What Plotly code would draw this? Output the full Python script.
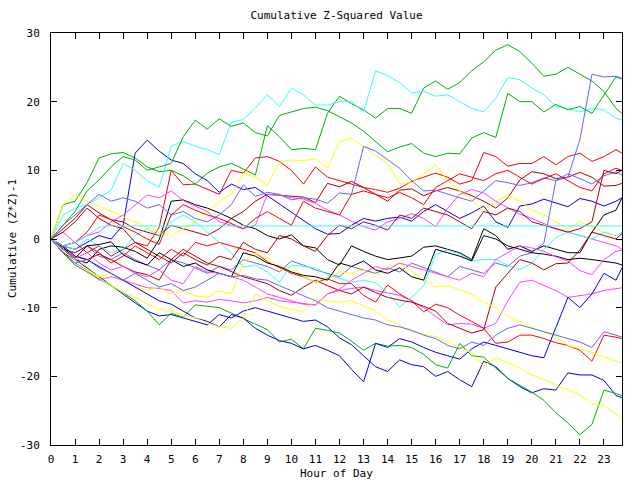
import plotly.graph_objects as go

# sampling grid: every half hour, plus the last quarter hour
HOURS = [i * 0.5 for i in range(48)] + [23.75]

G1 = [0, 5.0, 5.5, 8.2, 11.8, 12.4, 12.6, 11.8,
      10.5, 9.8, 10.0, 9.2, 8.0, 9.6, 10.5, 11.0,
      10.2, 9.3, 16.5, 14.9, 13.0, 13.2, 13.0, 18.3,
      20.8, 19.7, 18.8, 17.6, 19.0, 19.0, 18.3, 22.0,
      23.0, 21.8, 22.8, 24.5, 25.8, 27.5, 28.3, 27.3,
      25.6, 23.7, 24.0, 25.0, 24.0, 23.0, 21.5, 19.0,
      18.3]
G2 = [0, 2.0, 4.0, 7.0, 8.6, 10.5, 12.0, 11.5,
      10.0, 10.5, 11.0, 14.9, 17.3, 16.0, 17.5, 16.4,
      16.9, 15.5, 15.0, 18.0, 18.5, 19.0, 19.2, 18.7,
      17.8, 16.9, 15.7, 14.2, 12.7, 13.4, 13.9, 12.5,
      12.0, 12.5, 12.4, 14.7, 15.5, 14.8, 21.2, 20.0,
      20.0, 18.5, 19.6, 18.8, 19.3, 18.3, 21.0, 23.6,
      23.3]
GB = [0, -2.0, -3.8, -4.8, -5.8, -6.8, -7.8, -9.0,
      -10.5, -12.5, -10.8, -11.4, -9.6, -9.8, -10.0, -10.8,
      -11.6, -12.3, -13.2, -15.0, -14.6, -16.0, -13.0, -13.3,
      -13.7, -14.9, -16.2, -15.2, -15.6, -15.5, -15.8, -16.8,
      -18.3, -18.8, -15.2, -17.0, -17.2, -18.8, -20.3, -21.3,
      -22.3, -23.5, -25.3, -26.8, -28.5, -27.0, -22.0, -22.5,
      -22.8]
C1 = [0, 3.5, 4.5, 5.0, 6.0, 7.1, 11.0, 10.0,
      8.5, 7.5, 13.5, 14.2, 13.5, 13.0, 12.3, 17.0,
      17.4, 19.1, 21.0, 19.3, 22.0, 21.0, 19.5, 19.5,
      20.0, 20.0, 18.5, 24.5, 23.8, 22.8, 21.3, 21.5,
      20.8, 21.0, 20.0, 19.0, 18.5, 20.5, 23.5, 23.2,
      22.0, 21.0, 19.3, 19.0, 18.5, 19.0, 18.8, 17.6,
      17.3]
C2 = [0, -1.0, -0.5, 0.5, 1.7, 1.9, 1.9, 1.9,
      1.9, 1.9, 1.9, 1.9, 1.9, 1.9, 1.9, 1.9,
      1.9, 1.9, 1.9, 1.9, 1.9, 1.9, 1.9, 1.9,
      1.9, 1.9, 1.9, 1.9, 1.9, 1.9, 1.9, 1.9,
      1.9, 1.9, 1.9, 1.9, 1.9, 1.9, 1.9, 1.9,
      1.9, 1.9, 1.9, 1.9, 1.9, 1.9, 1.9, 1.9,
      1.9]
C3 = [0, -1.0, -1.5, 0.0, -1.0, -2.0, -1.5, 0.5,
      1.5, 0.5, 2.5, 3.5, 2.5, 1.0, -0.5, -2.0,
      -4.1, -3.8, -4.8, -6.3, -3.8, -4.0, -4.2, -5.2,
      -5.8, -6.3, -6.0, -6.4, -7.8, -9.9, -8.5, -6.8,
      -2.3, -1.6, -2.2, -3.2, -3.0, -3.0, -3.8, -4.5,
      -3.5, -1.5, 0.2, 1.0, 0.5, 0.0, 1.0, 0.5,
      1.0]
B1 = [0, -1.0, -1.5, -0.5, 0.5, 0.0, 2.0, 12.5,
      14.4, 12.8, 11.5, 11.0, 9.5, 8.5, 6.8, 8.0,
      7.2, 7.5, 6.3, 5.0, 3.8, 2.6, 1.5, 0.7,
      0.8, 2.0, 3.0, 2.6, 3.0, 3.2, 2.6, 4.0,
      5.0, 4.0, 3.0, 3.8, 4.8, 2.5, 1.7, 4.8,
      5.1, 5.8, 5.2, 4.7, 5.9, 5.5, 4.8, 5.5,
      6.0]
B2 = [0, -1.5, -3.0, -4.2, -5.5, -6.8, -8.0, -9.3,
      -10.5, -11.2, -11.0, -11.5, -12.0, -12.5, -11.0, -11.5,
      -10.5, -10.0, -10.5, -11.0, -11.5, -12.0, -11.8, -12.8,
      -14.4, -15.4, -17.0, -18.6, -19.3, -17.6, -18.3, -18.6,
      -20.0, -19.3, -20.5, -21.5, -17.8, -18.6, -20.3, -21.5,
      -22.4, -21.8, -22.0, -19.5, -19.8, -19.8, -20.6, -22.8,
      -23.1]
B3 = [0, -1.0, -2.5, -3.0, -4.0, -5.0, -6.0, -7.0,
      -8.0, -9.0, -9.5, -10.5, -11.5, -12.0, -12.8, -11.0,
      -11.5, -13.0, -14.0, -14.8, -15.2, -16.0, -15.5, -16.2,
      -17.0, -19.0, -20.8, -15.2, -15.8, -14.5, -15.0, -15.8,
      -16.5, -17.0, -17.5, -16.0, -15.0, -15.5, -16.0, -16.5,
      -17.0, -17.3, -13.0, -8.5, -10.0, -8.0, -5.0, -6.0,
      -4.2]
P1 = [0, -1.5, -2.0, -1.0, -2.5, -3.0, -2.0, -3.0,
      -3.8, -4.5, -3.0, -3.5, -4.2, -5.0, -4.0, -4.5,
      -3.0, -3.5, -4.0, -4.8, -3.2, -3.8, -4.5, -5.0,
      -5.5, -4.0, -4.5, -5.0, -4.2, -4.8, -3.5, -4.2,
      -4.8, -5.5, -4.0, -4.5, -5.0, -3.5, -4.0, -2.5,
      -2.0, -0.6, 8.5, 9.0, 14.5, 24.0, 23.6, 23.7,
      23.4]
P2 = [0, 2.0, 3.5, 5.0, 6.5, 5.5, 6.0, 5.5,
      4.5, 5.0, 3.5, 4.0, 3.0, 2.5, 3.5, 5.0,
      7.9, 6.2, 6.8, 6.5, 5.7, 6.0, 5.8, 5.2,
      6.7, 6.5, 13.5, 12.8, 11.5, 10.3, 8.5, 7.0,
      7.1, 6.5, 6.0, 5.5, 7.0, 8.5, 8.2, 7.8,
      8.2, 8.9, 8.5, 9.5, 8.8, 8.0, 9.2, 9.8,
      9.3]
P3 = [0, -2.0, -3.5, -3.0, -4.2, -5.0, -6.0, -5.0,
      -6.0, -7.0, -6.5, -7.5, -7.0, -6.0, -5.0, -5.5,
      -5.3, -5.8, -6.0, -6.8, -7.5, -8.2, -9.0, -10.0,
      -10.5, -11.0, -11.5, -11.8, -12.5, -12.8, -13.3, -14.0,
      -14.5, -15.5, -16.0, -15.0, -15.5, -14.0, -13.0, -12.5,
      -13.0, -13.6, -14.0, -14.5, -15.0, -15.8, -13.5, -14.0,
      -14.3]
K1 = [0, -2.0, -3.0, -3.5, -1.5, -1.0, -1.2, -1.8,
      -2.8, -0.1, 5.5, 5.7, 5.0, 4.5, 3.8, 3.0,
      2.0, 1.5, 0.5, 0.0, 0.6, -1.0, -1.3, -3.0,
      -3.8, -1.0, -1.8, -2.5, -3.0, -2.8, -2.5, -1.2,
      -1.0, -1.5, -2.0, -3.0, 1.5, 0.5, -1.5, -1.0,
      -1.8, -1.0, -1.5, -2.0, -2.0, 1.0, 3.5, 4.2,
      6.0]
K2 = [0, -1.2, -2.8, -1.0, -0.8, -0.4, -2.3, -3.2,
      -3.8, -2.0, -3.0, -4.0, -3.5, -4.5, -5.0, -5.5,
      -2.0, -2.5, -3.5, -4.0, -4.8, -5.3, -5.5, -6.0,
      -3.5, -4.0, -3.2, -4.5, -5.0, -4.2, -5.5, -6.0,
      -1.5, -2.0, -2.5, -3.2, 0.5, 0.0, -1.0, -1.5,
      -2.0, -2.2, -2.5, -3.0, -2.8, -3.0, -3.3, -3.5,
      -3.8]
DR1 = [0, 1.5, 3.0, 5.0, 3.8, 2.8, 2.5, 1.5,
       1.0, 0.5, 2.0, 1.5, 1.0, 0.5, 1.5, 3.0,
       4.0, 5.5, 6.5, 6.4, 6.3, 6.1, 5.3, 8.1,
       7.6, 8.4, 7.5, 6.5, 5.5, 7.1, 7.3, 6.3,
       7.0, 7.5, 7.0, 6.3, 5.5, 4.5, 6.0, 8.6,
       9.8, 9.5, 8.8, 9.0, 9.7, 9.0, 7.7, 7.8,
       8.1]
DR2 = [0, -1.0, -2.5, -3.0, -2.2, -3.0, -4.0, -4.8,
       -5.2, -6.0, -3.0, -1.5, -2.5, -3.5, -4.0, -4.8,
       -5.5, -6.0, -6.5, -7.5, -8.2, -7.0, -6.0, -6.8,
       -7.5, -8.0, -7.0, -7.8, -8.5, -8.9, -9.2, -9.8,
       -10.5, -12.3, -13.0, -13.7, -13.2, -7.0, -5.0, -3.0,
       -3.5, -4.5, -3.6, -3.5, -1.6, 1.0, 0.5, 0.0,
       0.8]
DR3 = [0, 1.0, 2.5, 4.5, 3.0, 2.0, 1.5, -0.5,
       -1.5, -2.5, -3.5, -2.0, -3.0, -3.8, -2.5, -3.0,
       -0.5, -1.5, -2.0, 0.5, 0.0, -1.0, -1.8, 0.5,
       2.0, 1.5, 2.5, 2.0, 1.3, 3.5, 3.0, 4.5,
       4.0, 3.5, 2.5, 1.5, 4.0, 3.5, 4.5, 4.0,
       2.5, 2.0, 1.5, 1.0, 1.5, 2.5, 10.0, 9.5,
       10.0]
R1 = [0, -1.0, -0.5, -2.0, -1.0, -2.5, -1.5, -0.5,
      -1.0, 1.7, 10.0, 7.9, 8.0, 7.2, 6.5, 10.0,
      9.6, 11.8, 12.0, 11.3, 10.0, 8.0, 10.5, 9.0,
      8.5, 8.0, 7.5, 7.2, 6.8, 7.4, 8.4, 9.0,
      9.6, 9.0, 8.0, 8.5, 12.6, 12.0, 10.6, 11.0,
      11.0, 12.0, 10.8, 12.0, 12.5, 11.3, 12.0, 13.0,
      12.5]
R2 = [0, -1.5, -2.0, -1.0, -2.0, -3.5, -2.5, -1.0,
      -2.0, -3.0, -1.5, -2.5, -0.5, -1.0, -0.5, -1.0,
      -1.5, -2.0, -3.3, -4.2, -5.0, -5.5, -6.3, -5.8,
      -6.5, -6.5, -8.2, -9.2, -6.7, -8.0, -9.0, -10.6,
      -9.5, -10.0, -11.1, -12.0, -13.0, -15.2, -15.0, -14.0,
      -14.0, -14.5, -15.1, -15.5, -16.2, -17.8, -14.0, -14.3,
      -14.5]
R3 = [0, -1.0, -0.5, 1.0, 3.5, 2.8, 1.8, 1.0,
      0.0, -0.8, 3.5, 5.0, 4.2, 3.5, 3.0, 2.2,
      1.5, 3.0, 4.0, 3.0, 2.0, 5.5, 4.5, 4.0,
      3.5, 6.5, 7.0, 6.5, 6.0, 6.8, 6.0, 5.0,
      7.5, 8.5, 9.5, 9.0, 8.5, 9.5, 10.0, 9.0,
      8.0, 8.8, 9.5, 8.5, 7.5, 7.0, 9.5, 10.3,
      10.0]
M1 = [0, -2.0, -3.5, -4.5, -6.0, -5.5, -6.0, -6.5,
      -7.1, -7.2, -7.5, -9.3, -9.0, -9.2, -8.8, -9.0,
      -9.3, -9.0, -8.5, -9.0, -9.2, -9.5, -9.6, -8.0,
      -7.5, -7.2, -7.0, -7.5, -7.8, -8.2, -9.0, -10.0,
      -11.3, -12.5, -12.3, -12.4, -13.0, -12.3, -9.0, -6.3,
      -6.0, -6.8, -7.5, -8.5, -8.2, -8.0, -7.5, -7.2,
      -7.1]
M2 = [0, 1.0, -0.5, 0.5, 1.0, 2.5, 3.5, 5.0,
      6.4, 6.0, 7.0, 5.6, 4.8, 4.0, 2.5, 2.0,
      1.5, 2.0, 6.5, 6.4, 6.0, 5.8, 5.2, 4.2,
      3.5, 2.6, 1.8, 1.3, 2.5, 3.0, 3.7, 3.0,
      1.8, 4.5, 6.5, 7.2, 6.7, 5.5, 4.5, 3.6,
      3.0, 2.2, 1.5, 1.0, 0.5, 0.0, -0.5, -1.0,
      -1.5]
M3 = [0, -1.5, -2.8, -2.0, -3.5, -4.5, -4.0, -5.0,
      -5.5, -4.5, -6.0, -6.5, -4.0, -4.8, -5.0, -5.5,
      -6.0, -7.0, -8.0, -8.5, -9.0, -9.5, -9.6, -8.0,
      -7.3, -6.0, -5.0, -4.0, -4.5, -3.5, -4.0, -4.5,
      -5.0, -5.5, -6.0, -5.0, -5.5, -3.0, -2.0, -1.0,
      -1.3, -1.8, -2.6, -3.2, -4.6, -5.2, -3.0, -1.8,
      -1.6]
Y1 = [0, 5.0, 6.5, 5.5, 4.8, 4.0, 3.2, 2.5,
      1.8, 1.0, 0.5, 1.5, 2.5, 4.0, 5.5, 6.5,
      9.5, 9.0, 7.8, 11.2, 11.5, 11.4, 11.7, 10.3,
      14.2, 14.6, 13.5, 12.2, 11.0, 8.1, 8.2, 9.5,
      10.8, 8.5, 7.0, 5.7, 4.1, 5.5, 6.3, 5.5,
      4.2, 3.5, 2.5, 1.5, 2.5, 1.8, 1.0, 0.0,
      -0.3]
Y2 = [0, -1.0, -2.5, -4.0, -5.5, -5.0, -6.0, -7.0,
      -7.5, -7.0, -8.0, -7.5, -8.3, -8.5, -7.5, -8.0,
      -3.5, -2.0, -3.0, -4.5, -4.0, -5.5, -6.3, -5.5,
      -4.8, -5.0, -4.5, -5.5, -4.0, -3.5, -4.8, -6.0,
      -7.0, -6.8, -7.4, -8.0, -9.2, -10.0, -11.3, -12.0,
      -12.8, -13.6, -14.2, -15.5, -16.0, -16.5, -17.2, -17.8,
      -18.0]
Y3 = [0, -1.8, -3.0, -4.5, -5.7, -6.8, -7.8, -8.5,
      -9.5, -10.2, -10.5, -11.0, -11.5, -12.2, -12.8, -13.0,
      -11.5, -8.0, -9.0, -9.8, -10.3, -10.6, -8.8, -9.0,
      -9.2, -9.0, -9.8, -10.5, -11.8, -12.5, -13.5, -13.8,
      -14.2, -15.0, -15.8, -16.6, -18.5, -17.3, -18.0, -18.8,
      -19.8, -20.5, -21.3, -22.0, -22.7, -24.0, -24.3, -25.5,
      -26.0]

RED, GREEN, BLUE, MAGENTA = "#ff0000", "#00b000", "#0000f0", "#ff40ff"
CYAN, DARKRED, YELLOW, BLACK, PERI = "#30ffff", "#b00000", "#ffff00", "#000000", "#6464ff"

SERIES = [
    (R1, RED), (G1, GREEN), (B1, BLUE), (M1, MAGENTA), (C1, CYAN),
    (DR1, DARKRED), (Y1, YELLOW), (K1, BLACK), (P1, PERI),
    (R2, RED), (G2, GREEN), (B2, BLUE), (M2, MAGENTA), (C3, CYAN),
    (DR2, DARKRED), (Y2, YELLOW), (K2, BLACK), (P2, PERI),
    (R3, RED), (GB, GREEN), (B3, BLUE), (M3, MAGENTA),
    (DR3, DARKRED), (Y3, YELLOW), (P3, PERI), (C2, CYAN),
]

XTICKS = list(range(24))
YTICKS = [-30, -20, -10, 0, 10, 20, 30]

fig = go.Figure()
for vals, col in SERIES:
    assert len(vals) == len(HOURS), len(vals)
    fig.add_trace(go.Scatter(x=HOURS, y=vals, mode="lines",
                             line=dict(color=col, width=1), hoverinfo="skip"))

FONT = "DejaVu Sans Mono"
fig.update_layout(
    width=640, height=480,
    margin=dict(l=51, r=18, t=33, b=35),
    paper_bgcolor="white", plot_bgcolor="white",
    showlegend=False,
    font=dict(family=FONT, size=11, color="black"),
    title=dict(text="Cumulative Z-Squared Value", x=0.5, xref="paper",
               y=1 - 15 / 480, yref="container", yanchor="middle",
               font=dict(family=FONT, size=11, color="black")),
)
fig.update_xaxes(range=[0, 23.75], tickvals=XTICKS, ticktext=[str(t) for t in XTICKS],
                 ticks="inside", ticklen=6, tickcolor="black", tickwidth=1,
                 showline=True, linecolor="black", linewidth=1, mirror="ticks",
                 showgrid=False, zeroline=False, ticklabelstandoff=4)
fig.update_yaxes(range=[-30, 30], tickvals=YTICKS, ticktext=[str(t) for t in YTICKS],
                 ticks="inside", ticklen=6, tickcolor="black", tickwidth=1,
                 showline=True, linecolor="black", linewidth=1, mirror="ticks",
                 showgrid=False, zeroline=False, ticklabelstandoff=8)
fig.add_annotation(text="Hour of Day", xref="paper", yref="paper", x=0.5, y=0,
                   yshift=-28, yanchor="middle", showarrow=False,
                   font=dict(family=FONT, size=11, color="black"))
fig.add_annotation(text="Cumulative (Z*Z)-1", xref="paper", yref="paper", x=0, y=0.5,
                   xshift=-39, xanchor="center", textangle=-90, showarrow=False,
                   font=dict(family=FONT, size=11, color="black"))
fig.write_html("out.html")
